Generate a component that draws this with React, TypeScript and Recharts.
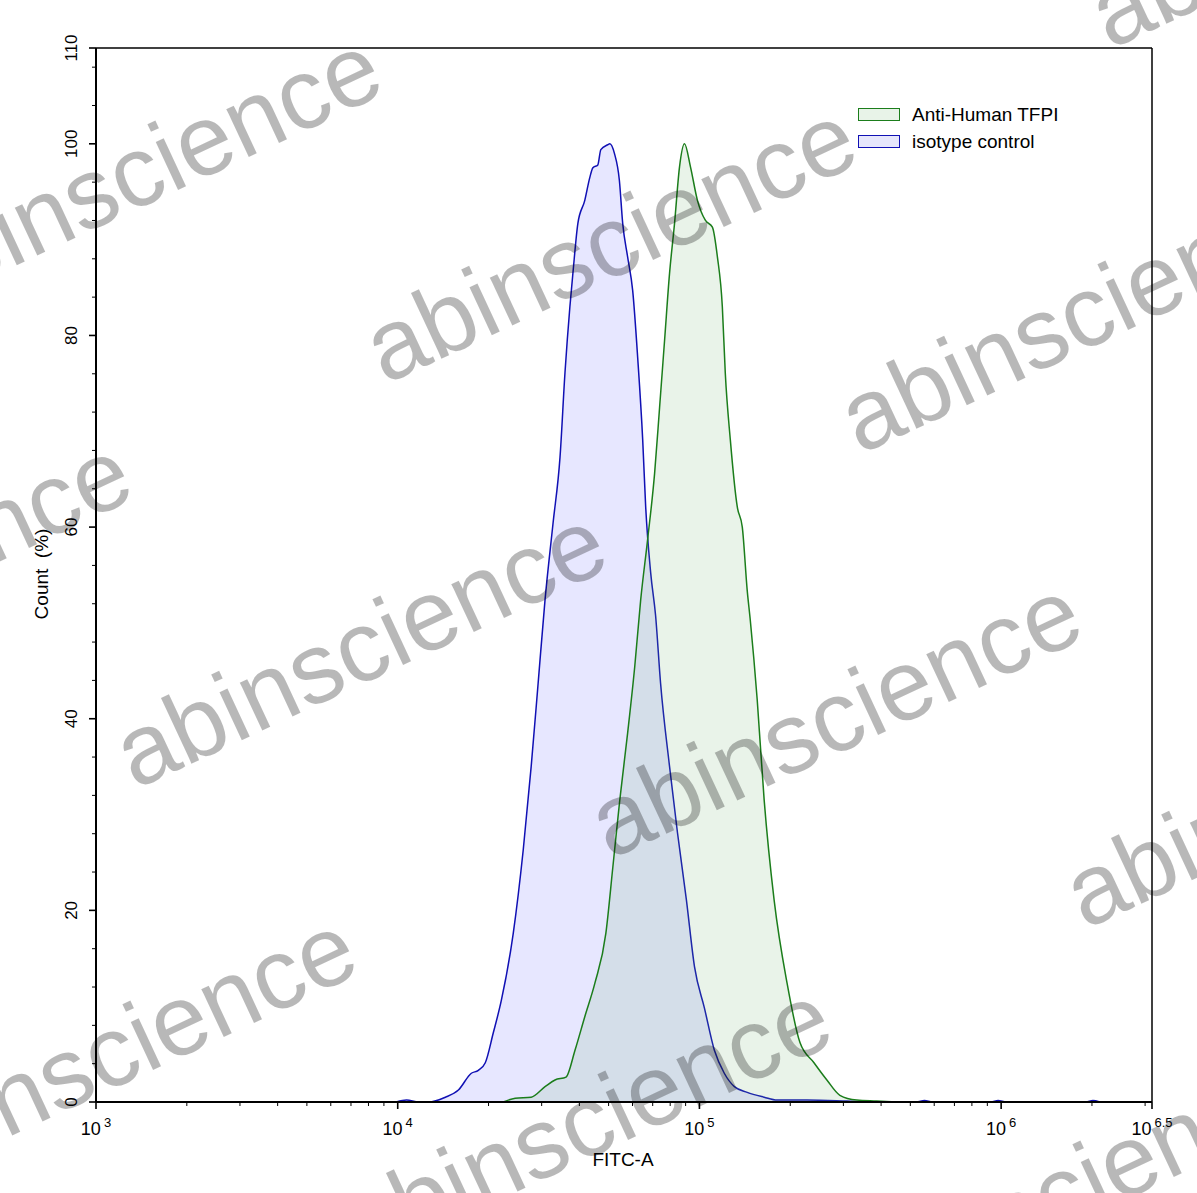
import {
  ComposedChart,
  Area,
  XAxis,
  YAxis,
  ReferenceLine,
  Legend,
  Customized,
} from "recharts";

// FITC-A intensity (log axis) and Count (%)
const X_MAX = 3162277.66; // 10^6.5

const ISO_X = [
  9900, 10700, 11720, 12650, 14390, 15890, 17540, 18500, 19510, 20730, 22050,
  24150, 26060, 27690, 29200, 30780, 32720, 34510, 35840, 37210, 38080, 39550,
  41690, 43330, 44350, 46050, 47120, 49690, 50470, 52270, 54280, 55680, 57810,
  60080, 62420, 64860, 66360, 68950, 71550, 74340, 79620, 84580, 90530, 96330,
  103900, 112100, 120900, 130600, 144000, 163900, 180900, 227000, 307600,
  386400, 523600, 557000, 592000, 926000, 977000, 1039000, 1910000, 2014000,
  2122000,
];
const ISO_Y = [
  0, 0.2, 0, 0, 0.5, 1.25, 3.0, 3.3, 4.1, 7.2, 10.6, 17.6, 26.3, 35.0, 43.7,
  52.4, 60.4, 67.3, 76.1, 83.0, 86.5, 91.7, 94.1, 96.5, 97.5, 97.8, 99.4, 99.9,
  100, 99.0, 96.2, 91.7, 88.2, 84.7, 77.7, 69.1, 62.1, 55.2, 50.8, 43.7, 35.0,
  28.1, 21.1, 14.1, 9.8, 5.4, 3.0, 1.6, 1.0, 0.5, 0.2, 0.2, 0.1, 0, 0, 0.15, 0,
  0, 0.15, 0, 0, 0.15, 0,
];

const TFPI_X = [
  22390, 24510, 27690, 30780, 33220, 36130, 38690, 41690, 45030, 48960, 51640,
  54450, 57810, 61020, 63870, 67340, 71030, 73790, 76650, 79620, 82700, 85910,
  89210, 93390, 98490, 104700, 110400, 114700, 119100, 121800, 126600, 133500,
  138700, 144000, 147400, 155400, 163900, 176800, 195200, 215400, 239700,
  264500, 292100, 332200, 386400, 450300,
];
const TFPI_Y = [
  0, 0.4, 0.5, 1.6, 2.3, 2.6, 5.4, 8.9, 12.4, 17.6, 24.5, 31.5, 38.5, 45.4,
  52.4, 58.7, 65.6, 72.5, 79.5, 86.5, 91.7, 97.6, 100, 97.6, 94.1, 92.0, 91.3,
  88.2, 83.0, 76.1, 69.1, 62.1, 60.0, 53.4, 50.3, 42.0, 31.5, 21.1, 12.4, 6.2,
  4.1, 2.3, 0.7, 0.2, 0.1, 0,
];

const X_MAJOR = [1000, 10000, 100000, 1000000, X_MAX];
const X_EXP = ["3", "4", "5", "6", "6.5"];
const X_MINOR = [
  2000, 3000, 4000, 5000, 6000, 7000, 8000, 9000, 20000, 30000, 40000, 50000,
  60000, 70000, 80000, 90000, 200000, 300000, 400000, 500000, 600000, 700000,
  800000, 900000, 2000000, 3000000,
];
const Y_TICKS = [
  0, 4, 8, 12, 16, 20, 24, 28, 32, 36, 40, 44, 48, 52, 56, 60, 64, 68, 72, 76,
  80, 84, 88, 92, 96, 100, 104, 108, 110,
];
const Y_LABELS = [0, 20, 40, 60, 80, 100, 110];

const SERIES = [
  { key: "tfpi", name: "Anti-Human TFPI", stroke: "#1b7d1b", box: "#e8f3e8" },
  { key: "iso", name: "isotype control", stroke: "#1010b4", box: "#e6e6fb" },
];

const FONT = "'Liberation Sans', Arial, Helvetica, sans-serif";

// one table, x shared, missing values left empty
const rows = (() => {
  const map = new Map<number, { x: number; iso?: number; tfpi?: number }>();
  ISO_X.forEach((x, i) => map.set(x, { ...(map.get(x) || { x }), iso: ISO_Y[i] }));
  TFPI_X.forEach((x, i) => map.set(x, { ...(map.get(x) || { x }), tfpi: TFPI_Y[i] }));
  return [...map.values()].sort((a, b) => a.x - b.x);
})();

function XTick(props: any) {
  const { x, y, payload } = props;
  const v = payload.value;
  const i = X_MAJOR.findIndex((m) => Math.abs(m - v) / m < 1e-6);
  const major = i >= 0;
  return (
    <g>
      <line x1={x} x2={x} y1={y} y2={y + (major ? 7 : 4)} stroke="#000" strokeWidth={major ? 1.6 : 1} />
      {major && (
        <text x={x} y={y + 33} textAnchor="middle" fontSize={18} fill="#000" fontFamily={FONT}>
          10
          <tspan dx={3} dy={-8} fontSize={13}>
            {X_EXP[i]}
          </tspan>
        </text>
      )}
    </g>
  );
}

function YTick(props: any) {
  const { x, y, payload } = props;
  const major = Y_LABELS.includes(payload.value);
  const lx = x - 19;
  return (
    <g>
      <line x1={x} x2={x - (major ? 7 : 4)} y1={y} y2={y} stroke="#000" strokeWidth={major ? 1.6 : 1} />
      {major && (
        <text
          x={lx}
          y={y}
          textAnchor="middle"
          fontSize={17}
          fill="#000"
          fontFamily={FONT}
          transform={`rotate(-90 ${lx} ${y})`}
        >
          {payload.value}
        </text>
      )}
    </g>
  );
}

function AxisTitles() {
  return (
    <g fontFamily={FONT} fontSize={19} fill="#000">
      <text x={623} y={1166} textAnchor="middle">
        FITC-A
      </text>
      <text
        x={48}
        y={574}
        textAnchor="middle"
        style={{ whiteSpace: "pre" }}
        transform="rotate(-90 48 574)"
      >
        {"Count  (%)"}
      </text>
    </g>
  );
}

function LegendBox() {
  return (
    <div style={{ fontFamily: FONT, fontSize: 19, color: "#000" }}>
      {SERIES.map((s) => (
        <div key={s.key} style={{ display: "flex", alignItems: "center", height: 27 }}>
          <span
            style={{
              display: "inline-block",
              width: 40,
              height: 11,
              border: `1.5px solid ${s.stroke}`,
              background: s.box,
              marginRight: 12,
            }}
          />
          <span>{s.name}</span>
        </div>
      ))}
    </div>
  );
}

const WATERMARKS = [
  [-90, 315], [385, 385], [860, 455], [1110, 50],
  [-340, 720], [135, 790], [610, 860], [1085, 930],
  [-115, 1195], [360, 1265], [835, 1335],
];

export default function App() {
  return (
    <div style={{ position: "absolute", left: 0, top: 0, width: 1197, height: 1193, background: "#fff" }}>
      <ComposedChart
        width={1197}
        height={1193}
        data={rows}
        margin={{ top: 48, right: 45, bottom: 31, left: 36 }}
        style={{ fontFamily: FONT }}
      >
        <XAxis
          dataKey="x"
          type="number"
          scale="log"
          domain={[1000, X_MAX]}
          allowDataOverflow
          ticks={[...X_MAJOR, ...X_MINOR].sort((a, b) => a - b)}
          interval={0}
          height={60}
          tickSize={0}
          tickMargin={0}
          tickLine={false}
          tick={<XTick />}
          axisLine={{ stroke: "#000", strokeWidth: 2 }}
        />
        <YAxis
          type="number"
          domain={[0, 110]}
          ticks={Y_TICKS}
          interval={0}
          width={60}
          tickSize={0}
          tickMargin={0}
          tickLine={false}
          tick={<YTick />}
          axisLine={{ stroke: "#000", strokeWidth: 2 }}
        />
        <ReferenceLine y={110} stroke="#000" strokeWidth={1.5} ifOverflow="visible" />
        <ReferenceLine x={X_MAX} stroke="#000" strokeWidth={1.5} ifOverflow="visible" />
        <Area
          type="monotone"
          dataKey="iso"
          name="isotype control"
          stroke="#1010b4"
          strokeWidth={1.5}
          fill="#7a7aff"
          fillOpacity={0.18}
          connectNulls
          dot={false}
          activeDot={false}
          isAnimationActive={false}
        />
        <Area
          type="monotone"
          dataKey="tfpi"
          name="Anti-Human TFPI"
          stroke="#1b7d1b"
          strokeWidth={1.5}
          fill="#6caf6c"
          fillOpacity={0.15}
          connectNulls
          dot={false}
          activeDot={false}
          isAnimationActive={false}
        />
        <Legend
          layout="vertical"
          align="center"
          verticalAlign="middle"
          wrapperStyle={{ left: 858, top: 101, width: 280 }}
          content={() => <LegendBox />}
        />
        <Customized component={AxisTitles} />
      </ComposedChart>
      <svg
        width={1197}
        height={1193}
        style={{ position: "absolute", left: 0, top: 0, pointerEvents: "none" }}
      >
        {WATERMARKS.map(([x, y], i) => (
          <text
            key={i}
            x={x}
            y={y}
            fontFamily={FONT}
            fontSize={100}
            fill="#000"
            fillOpacity={0.28}
            transform={`rotate(-25 ${x} ${y})`}
          >
            abinscience
          </text>
        ))}
      </svg>
    </div>
  );
}
